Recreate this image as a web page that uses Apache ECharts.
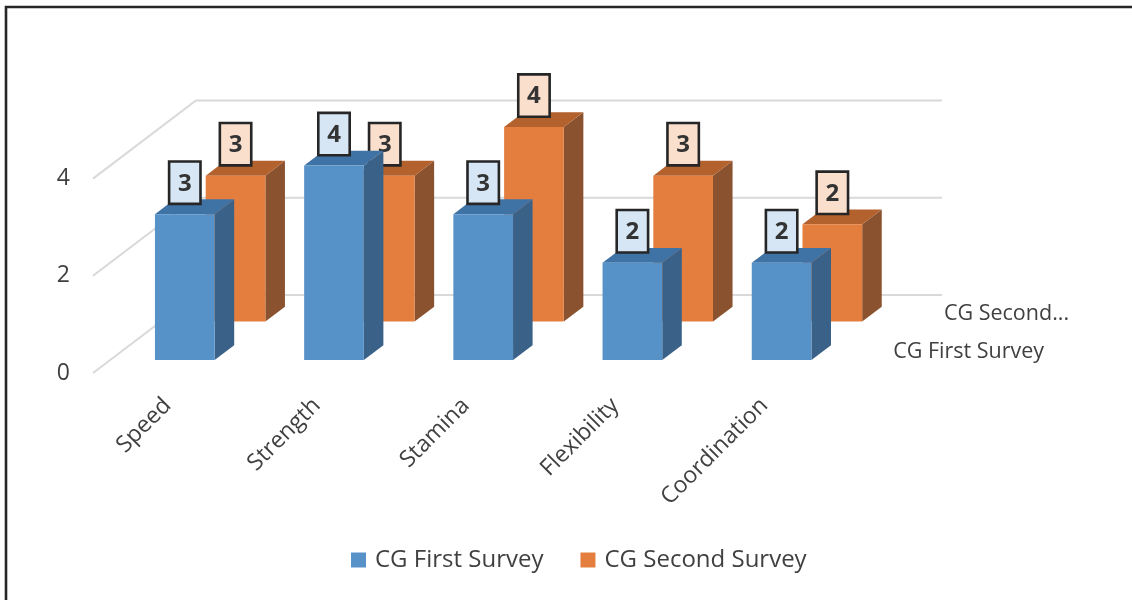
<!DOCTYPE html>
<html>
<head>
<meta charset="utf-8">
<script src="https://cdn.jsdelivr.net/npm/echarts@6/dist/echarts.min.js"></script>
<style>
  html, body { margin: 0; padding: 0; background: #ffffff; }
  #chart { width: 1132px; height: 600px; }
</style>
</head>
<body>
<div id="chart"></div>
<script>
// ---- data ----
const categories = ['Speed', 'Strength', 'Stamina', 'Flexibility', 'Coordination'];
const firstSurvey = [3, 4, 3, 2, 2];
const secondSurvey = [3, 3, 4, 3, 2];
const seriesNames = ['CG First Survey', 'CG Second Survey'];
const depthLabels = ['CG First Survey', 'CG Second...'];
const yTicks = [0, 2, 4];

// ---- styling ----
const FONT = '"Open Sans", "Noto Sans", sans-serif';
const TEXT_COLOR = '#404040';
// oblique depth vector of the whole floor, in units of one category band
const DEPTH = [0.69, -0.523];
// where each row of columns starts along the depth (0 = front edge, 1 = back wall)
const ROW_DEPTH = [0.167, 0.66];
const BAR_DEPTH = 0.19;
const BAR_OFFSET = 0.3;
const BAR_WIDTH = 0.4;

const palettes = [
  { front: '#5692c8', top: '#3f73a6', side: '#3a6289', box: '#d6e6f4' },
  { front: '#e47e3f', top: '#b3612d', side: '#8b5230', box: '#fadfcc' }
];

// side wall + back wall gridline for one value tick
function renderWallLine(params, api) {
  const v = api.value(1);
  const band = api.size([1, 0])[0];
  const first = api.coord([0, v]);
  const last = api.coord([categories.length - 1, v]);
  const dx = DEPTH[0] * band, dy = DEPTH[1] * band;
  const x0 = first[0] - band / 2;
  const x1 = last[0] + band / 2;
  return {
    type: 'polyline',
    shape: { points: [[x0, first[1]], [x0 + dx, first[1] + dy], [x1 + dx, first[1] + dy]] },
    style: { stroke: '#d9d9d9', lineWidth: 2, fill: null }
  };
}

// oblique 3D column with its value box
function barRenderer(row) {
  return function (params, api) {
    const i = api.value(0);
    const v = api.value(1);
    const band = api.size([1, 0])[0];
    const c0 = api.coord([i, 0]);
    const c1 = api.coord([i, v]);
    const dx = DEPTH[0] * band, dy = DEPTH[1] * band;
    const ox = ROW_DEPTH[row] * dx, oy = ROW_DEPTH[row] * dy;
    const bx = BAR_DEPTH * dx, by = BAR_DEPTH * dy;
    const left = c0[0] - band / 2 + BAR_OFFSET * band + ox;
    const right = left + BAR_WIDTH * band;
    const base = c0[1] + oy;
    const top = c1[1] + oy;
    const p = palettes[row];

    const children = [
      { type: 'polygon',
        shape: { points: [[right, top], [right + bx, top + by], [right + bx, base + by], [right, base]] },
        style: { fill: p.side } },
      { type: 'polygon',
        shape: { points: [[left, top], [right, top], [right + bx, top + by], [left + bx, top + by]] },
        style: { fill: p.top } },
      { type: 'rect',
        shape: { x: left, y: top, width: right - left, height: base - top },
        style: { fill: p.front } }
    ];

    const cx = (left + right) / 2;
    const boxW = 31.4, boxH = 42.4, gap = 10.3;
    children.push({
      type: 'rect',
      shape: { x: cx - boxW / 2, y: top - gap - boxH, width: boxW, height: boxH },
      style: { fill: p.box, stroke: '#262626', lineWidth: 2.6 }
    });
    children.push({
      type: 'text',
      x: cx, y: top - gap - boxH / 2 + 1,
      style: { text: String(v), fill: '#333333', font: 'bold 24px ' + FONT, align: 'center', verticalAlign: 'middle' }
    });

    // depth-axis label at the right end of the row
    if (params.dataIndex === categories.length - 1) {
      const axisRight = c0[0] + band / 2 + ox;
      children.push({
        type: 'text',
        x: axisRight + 37, y: base - 8,
        style: { text: depthLabels[row], fill: TEXT_COLOR, font: '21.5px ' + FONT, align: 'left', verticalAlign: 'middle' }
      });
    }
    return { type: 'group', children: children };
  };
}

const chart = echarts.init(document.getElementById('chart'), null, { renderer: 'canvas' });

chart.setOption({
  animation: false,
  backgroundColor: '#ffffff',
  grid: { left: 93, top: 178.6, width: 746, height: 194.4, containLabel: false },
  xAxis: {
    type: 'category',
    data: categories,
    axisLine: { show: false },
    axisTick: { show: false },
    axisLabel: { rotate: 45, margin: 29, fontFamily: FONT, fontSize: 23, color: TEXT_COLOR, interval: 0 }
  },
  yAxis: {
    type: 'value',
    min: 0, max: 4, interval: 2,
    axisLine: { show: false },
    axisTick: { show: false },
    splitLine: { show: false },
    axisLabel: { margin: 23, fontFamily: FONT, fontSize: 23, color: TEXT_COLOR }
  },
  legend: {
    data: seriesNames,
    left: 351, top: 548,
    padding: 0,
    icon: 'rect',
    itemWidth: 15, itemHeight: 15,
    itemGap: 37,
    textStyle: { fontFamily: FONT, fontSize: 24, color: TEXT_COLOR, padding: [0, 0, 0, 4] }
  },
  graphic: [{
    type: 'polyline',
    shape: { points: [[6, 600], [6, 7], [1132, 7]] },
    style: { stroke: '#262626', lineWidth: 2.6, fill: null },
    silent: true
  }],
  series: [
    {
      type: 'custom',
      name: 'walls',
      data: yTicks.map(v => [0, v]),
      renderItem: renderWallLine,
      silent: true,
      z: 1
    },
    {
      type: 'custom',
      name: seriesNames[1],
      data: secondSurvey.map((v, i) => [i, v]),
      itemStyle: { color: palettes[1].front },
      renderItem: barRenderer(1),
      z: 2
    },
    {
      type: 'custom',
      name: seriesNames[0],
      data: firstSurvey.map((v, i) => [i, v]),
      itemStyle: { color: palettes[0].front },
      renderItem: barRenderer(0),
      z: 3
    }
  ]
});
</script>
</body>
</html>
